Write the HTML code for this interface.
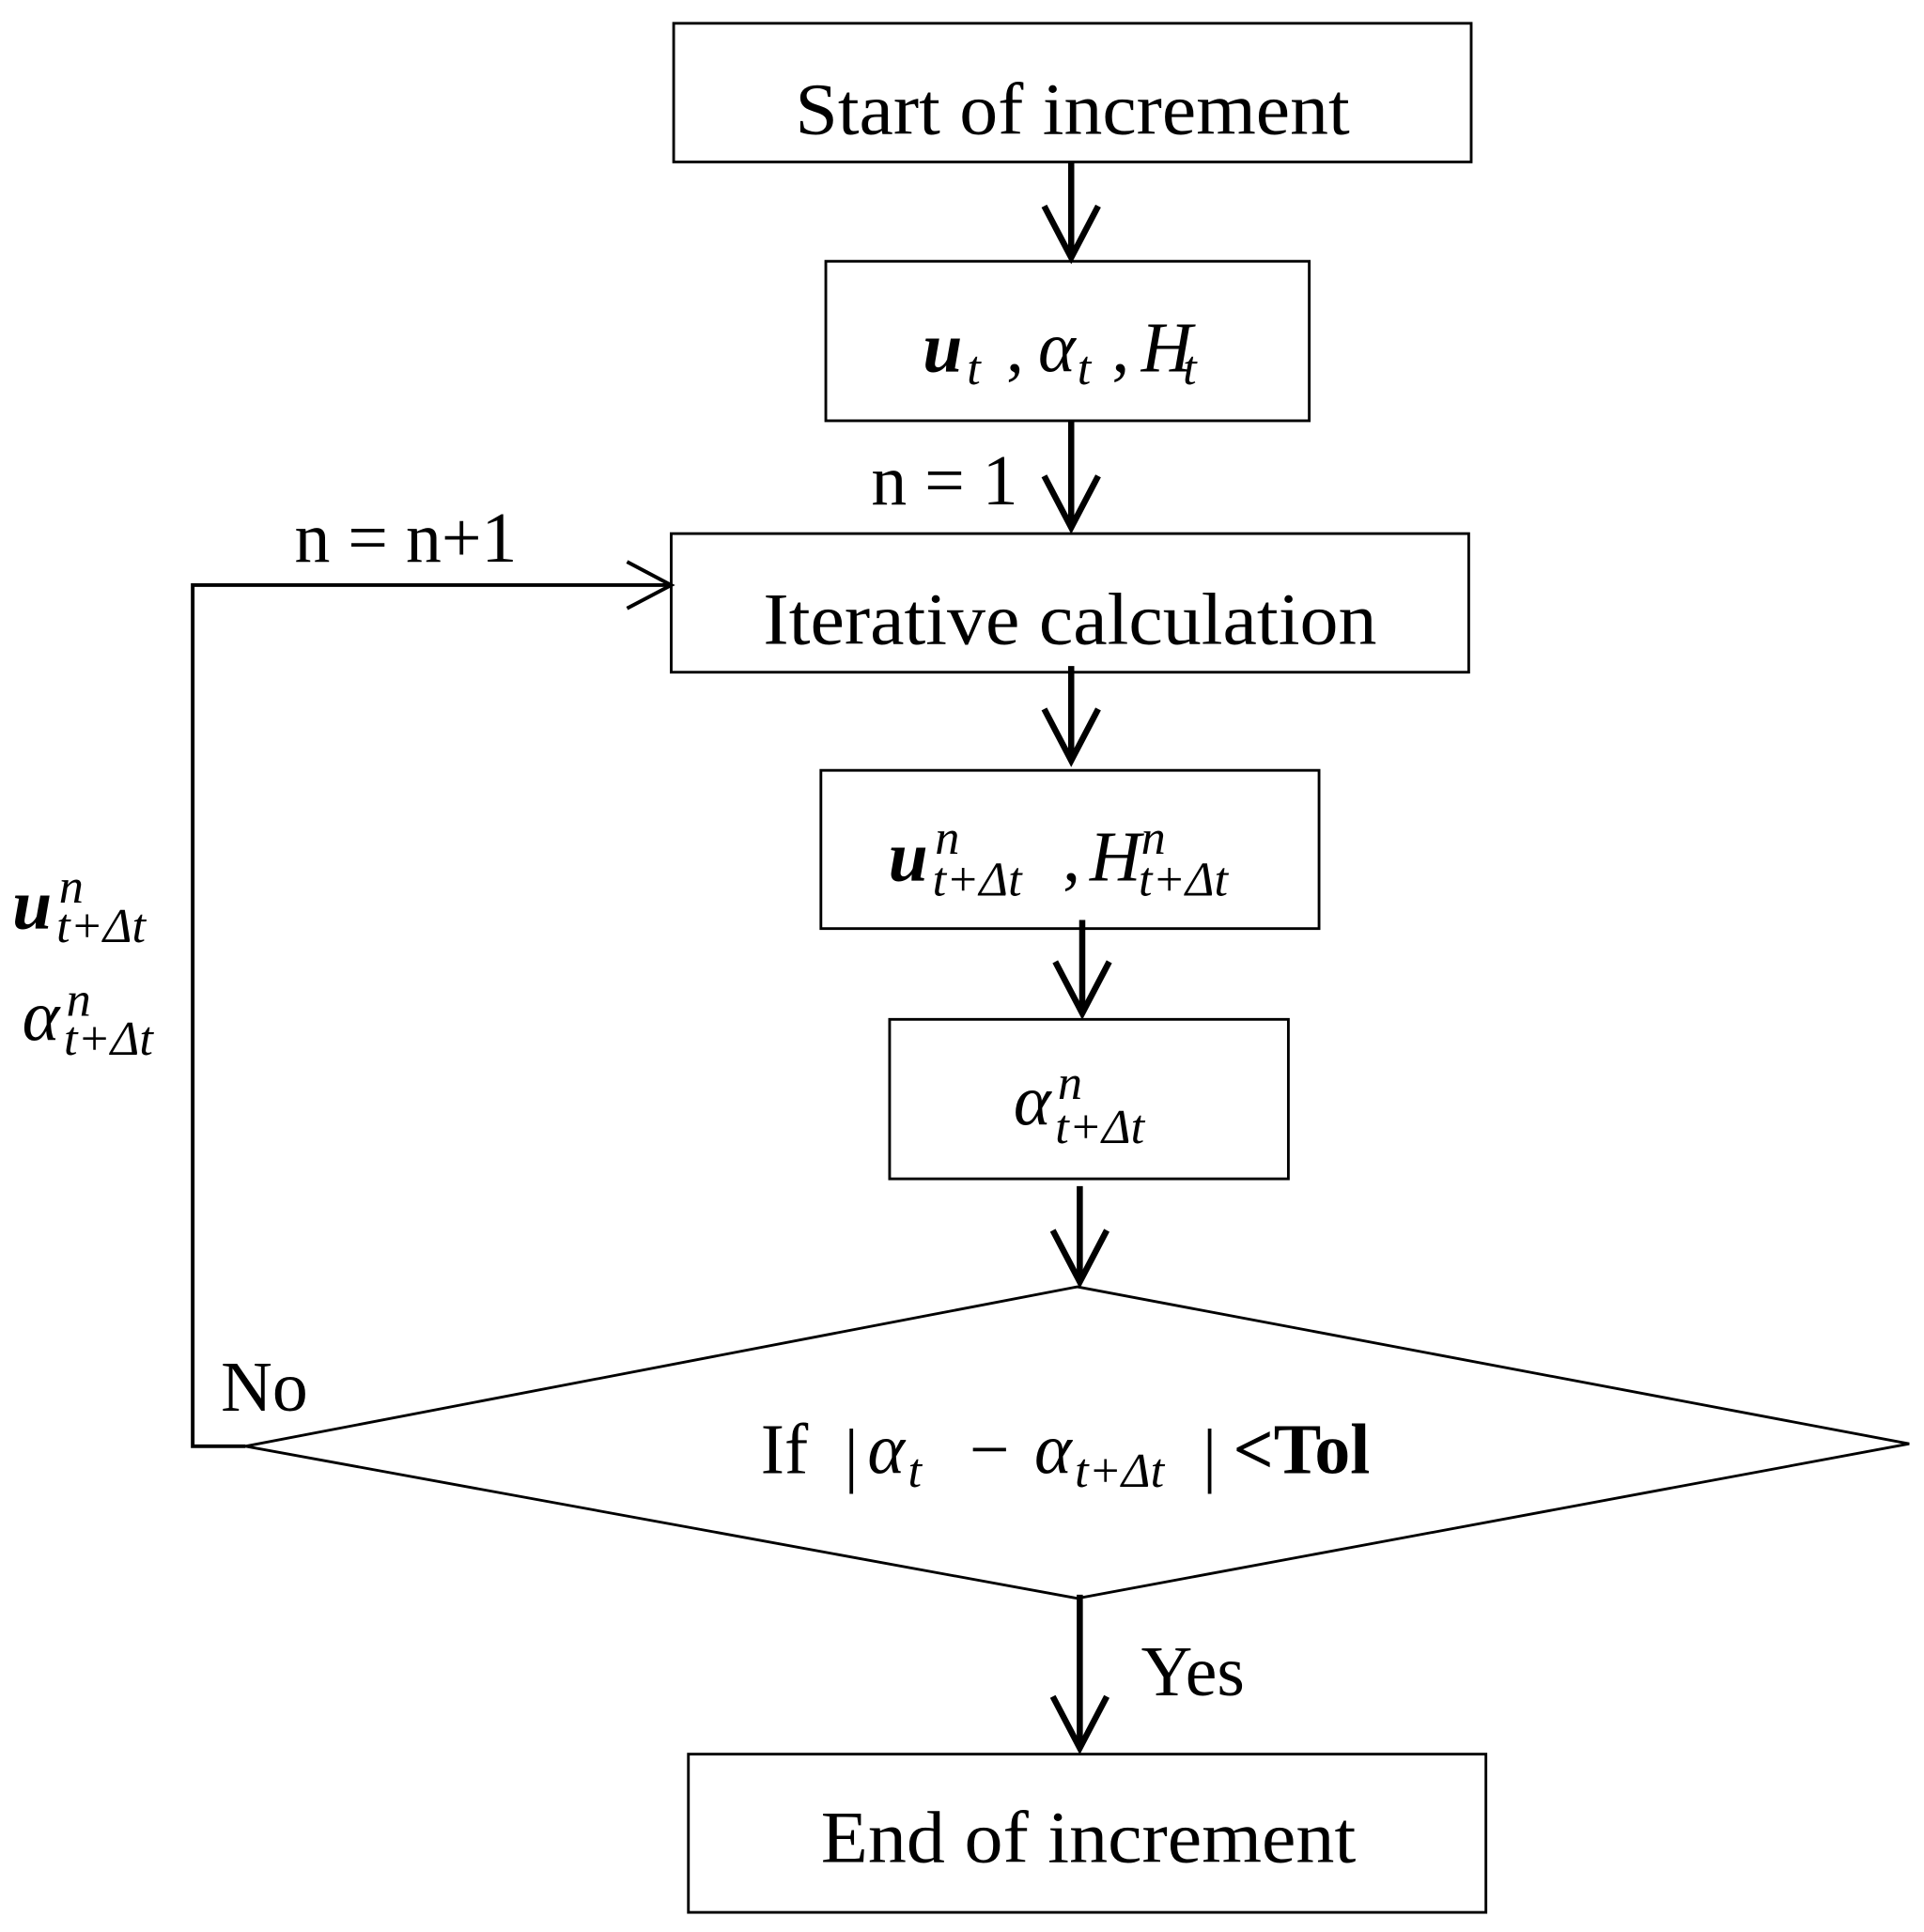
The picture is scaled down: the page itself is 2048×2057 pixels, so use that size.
<!DOCTYPE html>
<html><head><meta charset="utf-8"><style>
html,body{margin:0;padding:0;background:#fff}
svg{display:block}
text{font-family:"Liberation Serif",serif;fill:#000}
.i{font-style:italic}
.b{font-weight:bold}
.s{font-size:40px;font-style:italic}
.m{font-size:58px}
</style></head><body>
<svg width="2048" height="2057" viewBox="0 0 1568 1575" xmlns="http://www.w3.org/2000/svg">
<g fill="none" stroke="#000" stroke-width="2.2">
<rect x="549" y="19" width="650" height="113"/>
<rect x="673" y="213" width="394" height="130"/>
<rect x="547" y="435" width="650" height="113"/>
<rect x="669" y="628" width="406" height="129"/>
<rect x="725" y="831" width="325" height="130"/>
<polygon points="878,1049 1556,1177 878,1303 200,1179"/>
<rect x="561" y="1430" width="650" height="129"/>
<polyline points="200,1179 157,1179 157,477 547,477" stroke-width="3"/>
<polyline points="511,458 547,477 511,496" stroke-width="3"/>
</g>
<g fill="none" stroke="#000" stroke-width="5">
<line x1="873" y1="132" x2="873" y2="210"/><polyline points="851,168 873,210 895,168"/>
<line x1="873" y1="343" x2="873" y2="430"/><polyline points="851,388 873,430 895,388"/>
<line x1="873" y1="543" x2="873" y2="620"/><polyline points="851,578 873,620 895,578"/>
<line x1="882" y1="750" x2="882" y2="826"/><polyline points="860,784 882,826 904,784"/>
<line x1="880" y1="967" x2="880" y2="1045"/><polyline points="858,1003 880,1045 902,1003"/>
<line x1="880" y1="1300" x2="880" y2="1425"/><polyline points="858,1383 880,1425 902,1383"/>
</g>
<text x="874" y="109" font-size="60" text-anchor="middle" textLength="452" lengthAdjust="spacingAndGlyphs">Start of increment</text>
<text x="872" y="525" font-size="60" text-anchor="middle" textLength="500" lengthAdjust="spacingAndGlyphs">Iterative calculation</text>
<text x="887" y="1518" font-size="60" text-anchor="middle" textLength="436" lengthAdjust="spacingAndGlyphs">End of increment</text>

<text x="752" y="303" class="m i b">u</text>
<text x="788" y="313" class="s">t</text>
<text x="820" y="303" class="m">,</text>
<text x="846" y="303" class="m i">α</text>
<text x="878" y="313" class="s">t</text>
<text x="906" y="303" class="m">,</text>
<text x="930" y="303" class="m i">H</text>
<text x="964" y="313" class="s">t</text>

<text x="724" y="718" class="m i b">u</text>
<text x="762" y="696" class="s">n</text>
<text x="760" y="730" class="s">t+Δt</text>
<text x="866" y="718" class="m">,</text>
<text x="888" y="718" class="m i">H</text>
<text x="930" y="696" class="s">n</text>
<text x="928" y="730" class="s">t+Δt</text>

<text x="826" y="917" class="m i">α</text>
<text x="862" y="896" class="s">n</text>
<text x="860" y="932" class="s">t+Δt</text>

<text x="10" y="757" class="m i b">u</text>
<text x="48" y="736" class="s">n</text>
<text x="46" y="768" class="s">t+Δt</text>
<text x="18" y="848" class="m i">α</text>
<text x="54" y="828" class="s">n</text>
<text x="52" y="860" class="s">t+Δt</text>

<text x="620" y="1201" class="m">If</text>
<text x="688" y="1205" class="m">|</text>
<text x="707" y="1201" class="m i">α</text>
<text x="740" y="1212" class="s">t</text>
<text x="790" y="1201" class="m">−</text>
<text x="843" y="1201" class="m i">α</text>
<text x="876" y="1212" class="s">t+Δt</text>
<text x="980" y="1205" class="m">|</text>
<text x="1005" y="1201" class="m b">&lt;Tol</text>

<text x="710" y="411" font-size="58">n = 1</text>
<text x="240" y="458" font-size="58">n = n+1</text>
<text x="180" y="1150" font-size="58">No</text>
<text x="930" y="1382" font-size="58">Yes</text>
</svg>
</body></html>
